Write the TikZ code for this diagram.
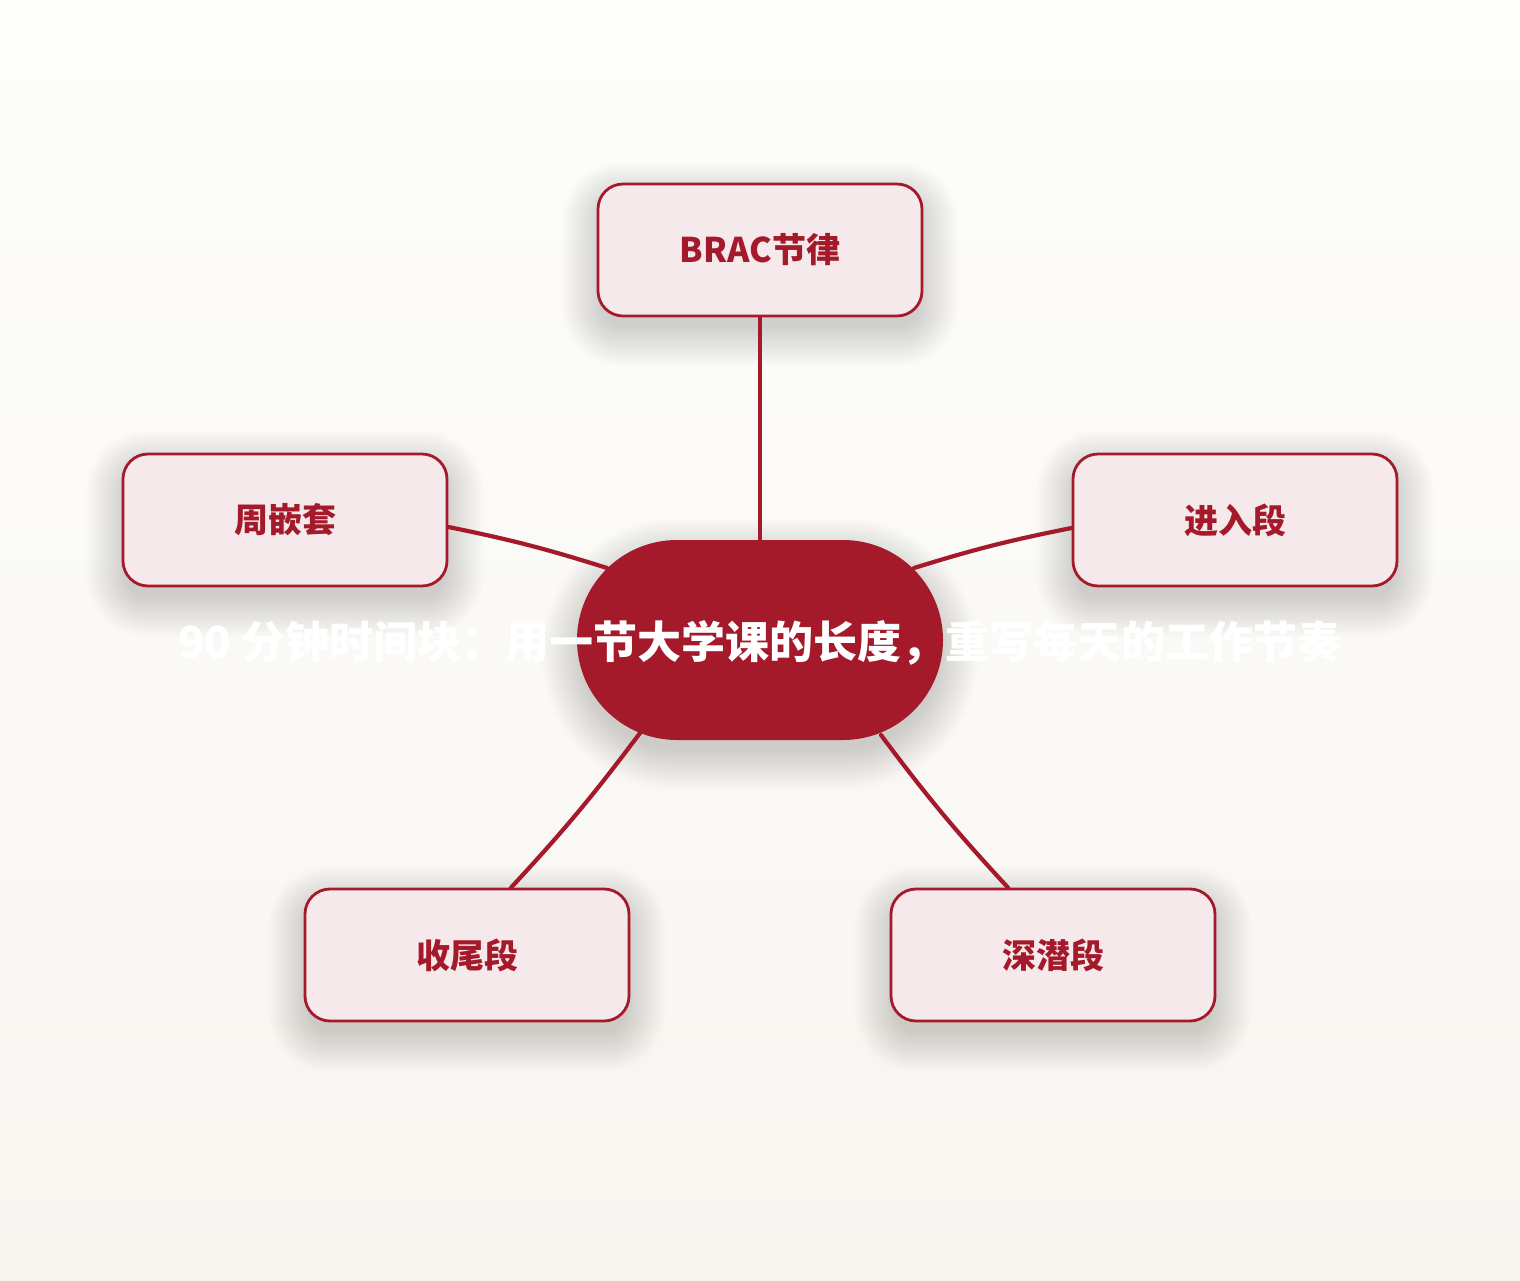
\documentclass[tikz,border=0pt]{standalone}
\usepackage{fontspec}
\newfontfamily\cjk{Noto Sans CJK SC}
\definecolor{brand}{RGB}{165,26,42}
\definecolor{boxfill}{RGB}{245,233,236}
\definecolor{bgtop}{RGB}{253,253,252}
\definecolor{bgbot}{RGB}{247,245,240}
\tikzset{
  leaf/.style={draw=brand, line width=2.8pt, fill=boxfill, rounded corners=25pt,
    minimum width=324pt, minimum height=132pt, inner sep=0pt,
    font=\cjk\bfseries\fontsize{34pt}{40pt}\selectfont, text=brand},
  hub/.style={fill=brand, draw=none, rounded corners=100pt,
    minimum width=366pt, minimum height=200pt, inner sep=0pt},
  hubtext/.style={font=\cjk\bfseries\fontsize{44pt}{50pt}\selectfont, text=white, inner sep=0pt},
  link/.style={draw=brand, line width=4.2pt, line cap=round},
  shadowlayer/.style={fill=black, fill opacity=0.009, draw=none}
}
% soft shadow: centre x, centre y, width, height, corner radius
\newcommand\softshade[5]{%
  \foreach \k in {0,...,21}{%
    \pgfmathsetmacro\ex{36-1.9*\k}%
    \pgfmathsetmacro\rr{max(#5+\ex,2)}%
    \fill[shadowlayer, rounded corners=\rr pt]
      ({#1-#3/2-\ex},{#2+14-#4/2-\ex}) rectangle ({#1+#3/2+\ex},{#2+14+#4/2+\ex});
  }%
}
\begin{document}
\begin{tikzpicture}[x=1pt,y=-1pt]
\shade[top color=bgtop, bottom color=bgbot] (0,0) rectangle (1520,1280);
\useasboundingbox (0,0) rectangle (1520,1280);
% shadows
\softshade{760}{640}{366}{200}{100}
\softshade{760}{250}{326}{134}{25}
\softshade{285}{520}{326}{134}{25}
\softshade{1235}{520}{326}{134}{25}
\softshade{467}{955}{326}{134}{25}
\softshade{1053}{955}{326}{134}{25}
% nodes
\node[hub] (hub) at (760,640) {};
\node[leaf] (brac) at (760,250) {BRAC节律};
\node[leaf] (week) at (285,520) {周嵌套};
\node[leaf] (enter) at (1235,520) {进入段};
\node[leaf] (tail) at (467,955) {收尾段};
\node[leaf] (deep) at (1053,955) {深潜段};
% connectors
\draw[link] (brac.south) -- (hub.north);
\draw[link] ([yshift=-7pt]week.east) to[bend left=3] ([shift={(-153,-72)}]hub.center);
\draw[link] ([yshift=-8pt]enter.west) to[bend right=3] ([shift={(154,-72)}]hub.center);
\draw[link] ([xshift=44pt]tail.north) to[bend right=3] ([shift={(-120,93)}]hub.center);
\draw[link] ([xshift=-45pt]deep.north) to[bend left=3] ([shift={(121,95)}]hub.center);
% hub text (overflows the hub)
\node[hubtext] (title) at (760,643) {90 分钟时间块：用一节大学课的长度，重写每天的工作节奏};
\end{tikzpicture}
\end{document}
